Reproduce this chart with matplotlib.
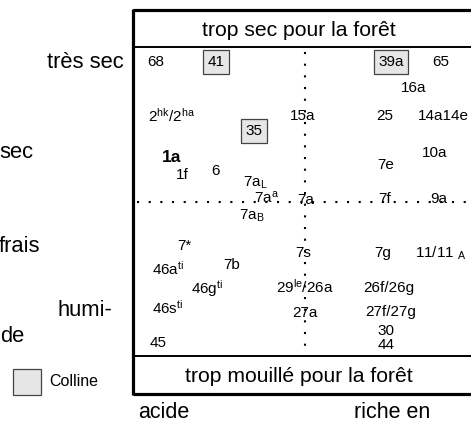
import matplotlib
matplotlib.use("Agg")
import matplotlib.pyplot as plt

plt.rcParams["font.family"] = ["Liberation Sans", "DejaVu Sans"]
plt.rcParams["mathtext.fontset"] = "custom"
plt.rcParams["mathtext.rm"] = "Liberation Sans"
plt.rcParams["mathtext.it"] = "Liberation Sans:italic"
plt.rcParams["mathtext.bf"] = "Liberation Sans:bold"

# vegetation units of the ecogram (x: acidity, y: humidity, pixel space)
units = ["68", "41", "39a", "65", "16a",
         r"2$^{\mathrm{hk}}$/2$^{\mathrm{ha}}$", "15a", "25", "14a14e", "35",
         "1a", "10a", "7e", "1f", "6", r"7a$_{\mathrm{L}}$",
         r"7a$^{\mathrm{a}}$", "7a", "7f", "9a", r"7a$_{\mathrm{B}}$",
         "7*", "7b", r"46a$^{\mathrm{ti}}$", "7s", "7g", r"11/11 $_{\mathrm{A}}$",
         r"46g$^{\mathrm{ti}}$", r"29$^{\mathrm{le}}$/26a", "26f/26g",
         r"46s$^{\mathrm{ti}}$", "27a", "27f/27g", "30", "44", "45"]
unit_x = [156, 216, 391, 441, 414,
          172, 303, 385, 443, 254,
          172, 435, 386, 182, 216, 255,
          267, 306, 385, 439, 252,
          184, 232, 168, 303, 383, 441,
          207, 305, 389,
          168, 305, 391, 386, 386, 158]
unit_y = [62, 62, 62, 62, 88,
          116, 116, 116, 116, 131,
          157, 153, 165, 175, 171, 183,
          198, 200, 199, 199, 216,
          246, 265, 269, 253, 253, 253,
          289, 287, 288,
          308, 313, 312, 331, 345, 343]
colline = ["41", "39a", "35"]
bold_units = ["1a"]

# row labels of the humidity axis (partly cut by the left image edge)
row_labels = ["très sec", "sec", "frais", "humi-", "de"]
row_x = [124, 33, 40, 112, 24]
row_y = [63, 153, 246, 310, 336]

top_label = "trop sec pour la forêt"
bottom_label = "trop mouillé pour la forêt"
axis_labels = ["acide", "riche en"]
axis_x = [164, 392]
legend_label = "Colline"

W, H = 471, 423
fig = plt.figure(figsize=(W / 100, H / 100), dpi=100)
ax = fig.add_axes([0, 0, 1, 1])
ax.set_xlim(0, W)
ax.set_ylim(H, 0)
ax.axis("off")

# frame of the ecogram
left, right = 133, W + 5
top, head1, head2, bottom = 10, 47, 356, 394
ax.plot([left, right], [top, top], color="black", lw=2.3, solid_capstyle="butt")
ax.plot([left, right], [bottom, bottom], color="black", lw=2.3, solid_capstyle="butt")
ax.plot([left, left], [top - 1, bottom + 1], color="black", lw=2.3, solid_capstyle="butt")
ax.plot([left, right], [head1, head1], color="black", lw=1.4)
ax.plot([left, right], [head2, head2], color="black", lw=1.4)

# dotted dividers
dots = (0, (1, 4.6))
ax.plot([305, 305], [head1 + 5, head2 - 2], color="black", lw=1.5, linestyle=dots)
ax.plot([left + 4, right], [202, 202], color="black", lw=1.5, linestyle=dots)

ax.text((left + W) / 2 - 3, 30, top_label, fontsize=15.2, ha="center", va="center")
ax.text((left + W) / 2 - 3, 376, bottom_label, fontsize=15.2, ha="center", va="center")

for name, x, y in zip(units, unit_x, unit_y):
    kw = dict(fontsize=11, ha="center", va="center")
    if name in bold_units:
        kw.update(fontsize=12.5, fontweight="bold")
    if name in colline:
        kw["bbox"] = dict(boxstyle="square,pad=0.3", facecolor="#e6e6e6",
                          edgecolor="#444444", lw=0.9)
    ax.text(x, y, name, **kw)

for name, x, y in zip(row_labels, row_x, row_y):
    ax.text(x, y, name, fontsize=15.8, ha="right", va="center")

for name, x in zip(axis_labels, axis_x):
    ax.text(x, 413, name, fontsize=15.5, ha="center", va="center")

# legend
ax.add_patch(plt.Rectangle((13, 369), 28, 26, facecolor="#e6e6e6",
                           edgecolor="#444444", lw=0.9))
ax.text(49, 382, legend_label, fontsize=11.5, ha="left", va="center")

fig.savefig("out.png", dpi=100)
